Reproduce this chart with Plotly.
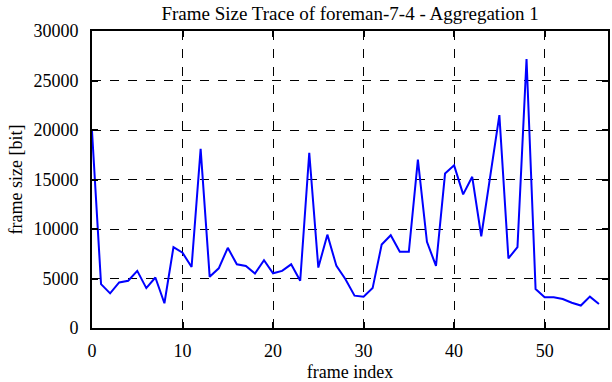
import plotly.graph_objects as go

frame_index = list(range(57))
frame_size = [19900, 4430, 3500, 4600, 4770, 5770, 4030, 5100, 2500, 8170,
              7600, 6170, 18100, 5170, 6030, 8100, 6430, 6270, 5500, 6850,
              5530, 5770, 6430, 4770, 17700, 6100, 9430, 6270, 4930, 3270,
              3170, 4030, 8430, 9370, 7700, 7700, 17000, 8700, 6270, 15600,
              16430, 13500, 15270, 9270, 15400, 21500, 7030, 8170, 27170, 3930,
              3100, 3100, 2930, 2550, 2270, 3170, 2430]

title_text = "Frame Size Trace of foreman-7-4 - Aggregation 1"
x_label = "frame index"
y_label = "frame size [bit]"
x_ticks = [0, 10, 20, 30, 40, 50]
y_ticks = [0, 5000, 10000, 15000, 20000, 25000, 30000]

font = "Liberation Serif"

fig = go.Figure(go.Scatter(x=frame_index, y=frame_size, mode="lines",
                           line=dict(color="#0000ff", width=2)))

axis_common = dict(showline=True, linecolor="black", linewidth=2, mirror="ticks",
                   ticks="inside", ticklen=6, tickwidth=2, tickcolor="black",
                   showgrid=True, gridcolor="black", gridwidth=1, griddash="dash",
                   zeroline=False, tickformat="d",
                   tickfont=dict(family=font, size=18, color="black"))

fig.update_layout(
    width=612, height=382,
    margin=dict(l=92, r=2, t=31, b=51),
    paper_bgcolor="white", plot_bgcolor="white",
    font=dict(family=font, size=18, color="black"),
    showlegend=False,
    title=dict(text=title_text, x=0.572, xanchor="center", y=1 - 13 / 382, yanchor="middle",
               yref="container", font=dict(family=font, size=19, color="black")),
    xaxis=dict(range=[0, 57], tickvals=x_ticks, ticklabelstandoff=5,
               title=dict(text=x_label, font=dict(family=font, size=18, color="black"), standoff=7),
               **axis_common),
    yaxis=dict(range=[0, 30000], tickvals=y_ticks, ticklabelstandoff=8,
               title=dict(text=y_label, font=dict(family=font, size=18, color="black"), standoff=6),
               **axis_common),
)

fig.write_html("out.html", config={"displayModeBar": False},
               post_script="document.body.style.margin='0';")
